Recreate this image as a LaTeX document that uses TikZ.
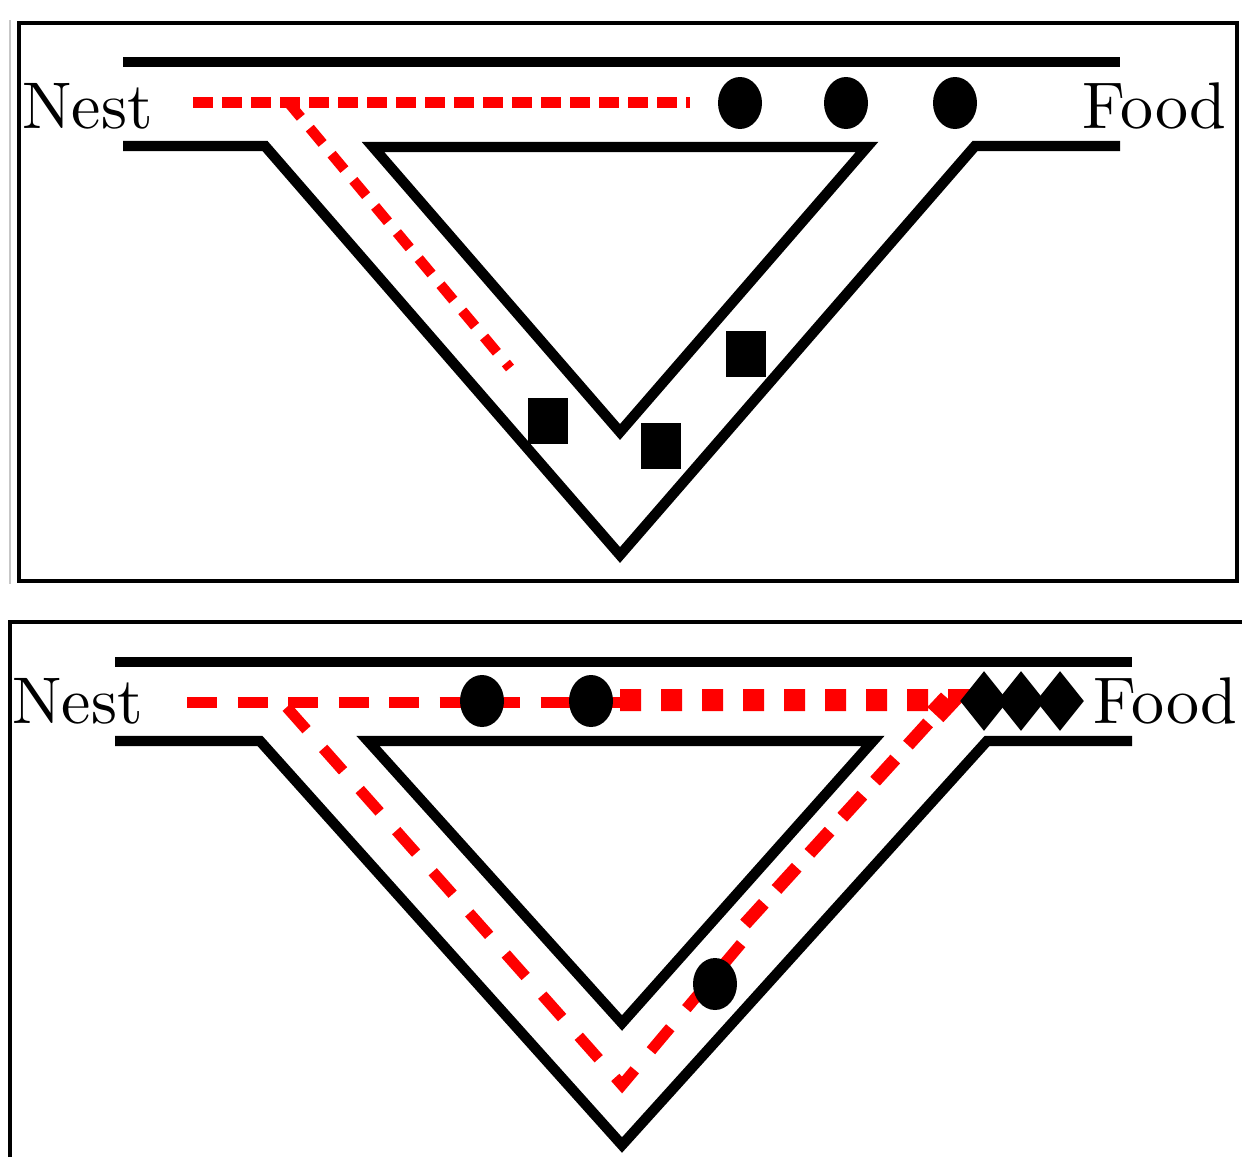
\documentclass[tikz,border=0pt]{standalone}
\usetikzlibrary{shapes.geometric}
\font\antlabelfont=cmr10 at 33pt
\begin{document}
\begin{tikzpicture}[x=0.5pt,y=-0.5pt,
  wall/.style={line width=5.2pt,line join=miter,black},
  frameline/.style={line width=2pt,black},
  trailA/.style={red,line width=5.5pt,dash pattern=on 10pt off 4.5pt},
  trailB/.style={red,line width=5.2pt,dash pattern=on 10pt off 7pt},
  trailC/.style={red,line width=5.5pt,dash pattern=on 15pt off 10.25pt},
  trailD/.style={red,line width=5.5pt,line join=miter,dash pattern=on 15pt off 12.5pt,dash phase=24pt},
  trailE/.style={red,line width=11pt,line join=miter,dash pattern=on 10.5pt off 10pt},
  trailF/.style={red,line width=6.5pt,dash pattern=on 15pt off 9.4pt,dash phase=8.9pt},
  ant/.style={ellipse,fill=black,inner sep=0pt,minimum width=22pt,minimum height=26pt},
  block/.style={rectangle,fill=black,inner sep=0pt,minimum width=20pt,minimum height=23pt},
  gem/.style={diamond,fill=black,inner sep=0pt,minimum width=24pt,minimum height=30pt},
  lbl/.style={inner sep=0pt,font=\antlabelfont}
]
\useasboundingbox (0,0) rectangle (1242,1157);

% ---------- top panel ----------
\draw[black!22,line width=1.25pt] (10,20) -- (10,584);
\draw[frameline] (19,23) rectangle (1237,581);
\draw[wall] (123,62) -- (1120,62);
\draw[wall] (123,146) -- (265,146) -- (620,555) -- (975,146) -- (1120,146);
\draw[wall] (373,147) -- (867,147) -- (620,432) -- cycle;

\coordinate (t1) at (193,102);
\coordinate (t2) at (690,102);
\coordinate (tj) at (288,102);
\coordinate (tb) at (510,368);
\draw[trailA] (t1) -- (t2);
\draw[trailB] (tj) -- (tb);

\node[ant] (a1) at (740,103) {};
\node[ant] (a2) at (846,103) {};
\node[ant] (a3) at (955,103) {};
\node[block] (b1) at (548,421) {};
\node[block] (b2) at (661,445.5) {};
\node[block] (b3) at (746,353.5) {};

\node[lbl,anchor=base west] (nest1) at (22,128) {Nest};
\node[lbl,anchor=base east] (food1) at (1227,128) {Food};

% ---------- bottom panel ----------
\draw[frameline] (10,1157) -- (10,622) -- (1242,622);
\draw[wall] (115,662) -- (1132,662);
\draw[wall] (115,741) -- (260,741) -- (622,1145) -- (987,741) -- (1132,741);
\draw[wall] (368,741) -- (873,741) -- (622,1023) -- cycle;

\coordinate (n1) at (187,702);
\coordinate (n2) at (622,702);
\coordinate (nj) at (282,702);
\coordinate (nv) at (622,1085);
\coordinate (ne) at (744.5,939.6);
\coordinate (s1) at (620,700);
\coordinate (sc) at (949,700);
\coordinate (s2) at (935,715);
\coordinate (se) at (745,924);
\draw[trailC] (n1) -- (n2);
\draw[trailD] (nj) -- (nv) -- (ne);
\draw[trailE] (s1) -- (sc) -- (s2);
\draw[trailF] (sc) -- (se);

\node[ant] (a4) at (482,701) {};
\node[ant] (a5) at (591,701) {};
\node[ant] (a6) at (715,984) {};
\node[gem] (g1) at (984,701) {};
\node[gem] (g2) at (1021,701) {};
\node[gem] (g3) at (1060,701) {};

\node[lbl,anchor=base west] (nest2) at (12,723) {Nest};
\node[lbl,anchor=base east] (food2) at (1238,723) {Food};
\end{tikzpicture}
\end{document}
